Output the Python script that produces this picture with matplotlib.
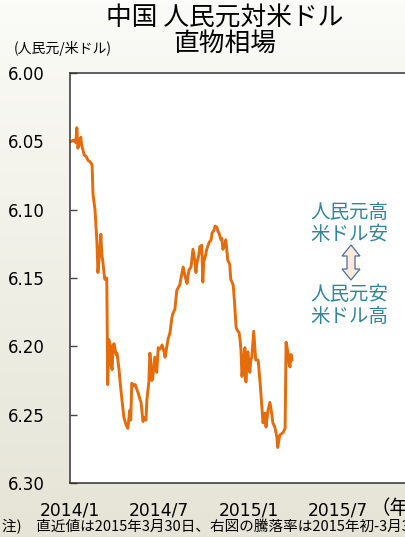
import numpy as np
import pandas as pd
import matplotlib
matplotlib.use("Agg")
import matplotlib.pyplot as plt
from matplotlib.patches import Polygon

plt.rcParams['font.family'] = ['Noto Sans CJK JP', 'DejaVu Sans']

# Days since 2014-01-01 and CNY per USD spot rate
days = [2, 8, 12, 14, 16, 18, 22, 24, 29, 33, 37, 41, 45, 47, 51, 55, 57, 61, 63, 65,
        67, 71, 75, 77, 79, 82, 84, 86, 88, 90, 94, 96, 100, 102, 106, 110, 114, 118, 122, 124,
        126, 131, 133, 139, 143, 145, 149, 153, 155, 157, 161, 163, 165, 167, 169, 173, 177, 180, 184, 188,
        192, 194, 198, 200, 204, 208, 210, 214, 216, 218, 224, 226, 231, 235, 239, 241, 243, 247, 251, 255,
        257, 259, 263, 265, 269, 271, 273, 277, 279, 284, 288, 290, 294, 296, 300, 302, 304, 308, 310, 312,
        316, 318, 322, 326, 328, 333, 335, 339, 341, 345, 347, 349, 351, 355, 357, 359, 361, 363, 367, 369,
        371, 373, 375, 379, 384, 388, 392, 394, 398, 400, 404, 408, 412, 414, 418, 422, 424, 428, 435, 439,
        441, 443, 445, 447, 449, 451, 453]
rate = [6.050, 6.049, 6.051, 6.040, 6.055, 6.053, 6.047, 6.053, 6.060, 6.061, 6.064, 6.065, 6.067, 6.089, 6.100, 6.124, 6.146, 6.129, 6.118, 6.133,
        6.138, 6.151, 6.150, 6.228, 6.195, 6.199, 6.214, 6.217, 6.199, 6.198, 6.206, 6.205, 6.217, 6.225, 6.239, 6.252, 6.257, 6.260, 6.247, 6.254,
        6.227, 6.229, 6.228, 6.234, 6.239, 6.241, 6.255, 6.252, 6.254, 6.239, 6.226, 6.205, 6.212, 6.225, 6.223, 6.208, 6.219, 6.201, 6.202, 6.199,
        6.204, 6.208, 6.199, 6.195, 6.190, 6.179, 6.176, 6.173, 6.166, 6.159, 6.155, 6.151, 6.142, 6.149, 6.154, 6.148, 6.144, 6.142, 6.129, 6.138,
        6.146, 6.139, 6.133, 6.127, 6.126, 6.153, 6.138, 6.133, 6.129, 6.124, 6.122, 6.117, 6.115, 6.112, 6.113, 6.116, 6.117, 6.122, 6.121, 6.129,
        6.126, 6.122, 6.137, 6.140, 6.151, 6.155, 6.164, 6.186, 6.188, 6.190, 6.195, 6.203, 6.222, 6.206, 6.201, 6.226, 6.210, 6.204, 6.219, 6.210,
        6.208, 6.199, 6.189, 6.210, 6.210, 6.227, 6.247, 6.256, 6.249, 6.259, 6.247, 6.241, 6.250, 6.256, 6.259, 6.266, 6.274, 6.265, 6.263, 6.260,
        6.197, 6.201, 6.205, 6.213, 6.215, 6.206, 6.210]

yticks = [6.00, 6.05, 6.10, 6.15, 6.20, 6.25, 6.30]
xtick_dates = ['2014-01-01', '2014-07-01', '2015-01-01', '2015-07-01']
xtick_labels = ['2014/1', '2014/7', '2015/1', '2015/7']

dates = pd.Timestamp('2014-01-01') + pd.to_timedelta(days, unit='D')

W, H = 406, 537
fig = plt.figure(figsize=(W / 100, H / 100), dpi=100)

# background gradient
bg = fig.add_axes([0, 0, 1, 1], zorder=-10)
grad = np.linspace(0, 1, 256).reshape(-1, 1)
top_c = np.array([0.985, 0.985, 0.970])
bot_c = np.array([0.898, 0.894, 0.840])
img = top_c[None, None, :] * (1 - grad[:, :, None]) + bot_c[None, None, :] * grad[:, :, None]
bg.imshow(img, aspect='auto', extent=[0, 1, 0, 1])
bg.set_axis_off()

left_px, right_px, top_px, bot_px = 70, 418, 73, 483
ax = fig.add_axes([left_px / W, 1 - bot_px / H, (right_px - left_px) / W, (bot_px - top_px) / H])
ax.set_facecolor('white')
ax.plot(dates, rate, color='#E46C0A', lw=2.1, solid_joinstyle='round')

x0 = pd.Timestamp('2014-01-01')
ax.set_xlim(x0, x0 + pd.Timedelta(days=(right_px - left_px) / 0.49))
ax.set_ylim(6.30, 6.00)
ax.set_yticks(yticks)
ax.set_yticklabels([f'{v:.2f}' for v in yticks], fontsize=12, family='DejaVu Sans')
ax.set_xticks(pd.to_datetime(xtick_dates))
ax.set_xticklabels(xtick_labels, fontsize=12.3, family='DejaVu Sans')
ax.tick_params(axis='y', direction='in', length=5, width=1, pad=18, color='#444444')
ax.tick_params(axis='x', length=0, pad=13)
for s in ax.spines.values():
    s.set_color('#333333')
    s.set_linewidth(1.1)

def fx(px):
    return px / W

def fy(py):
    return 1 - py / H

fig.text(fx(371), fy(509), '（年）', fontsize=14, ha='left', va='center')

fig.text(fx(225), fy(19), '中国 人民元対米ドル', fontsize=18.5, ha='center', va='center')
fig.text(fx(225), fy(44), '直物相場', fontsize=18.5, ha='center', va='center')
fig.text(fx(14), fy(48), '(人民元/米ドル)', fontsize=10, ha='left', va='center')

tc = '#31859C'
fig.text(fx(349), fy(212), '人民元高', fontsize=14, color=tc, ha='center', va='center')
fig.text(fx(349), fy(235), '米ドル安', fontsize=14, color=tc, ha='center', va='center')
fig.text(fx(349), fy(295), '人民元安', fontsize=14, color=tc, ha='center', va='center')
fig.text(fx(349), fy(317), '米ドル高', fontsize=14, color=tc, ha='center', va='center')

cx = 351
pts = [(cx, 245), (cx + 9, 256), (cx + 4, 256), (cx + 4, 269), (cx + 9, 269), (cx, 280),
       (cx - 9, 269), (cx - 4, 269), (cx - 4, 256), (cx - 9, 256)]
arrow = Polygon([(fx(x), fy(y)) for x, y in pts], closed=True, transform=fig.transFigure,
                facecolor='#FDE9D9', edgecolor='#4A6FA0', lw=0.9)
fig.patches.append(arrow)

fig.text(fx(2), fy(527), '注)　直近値は2015年3月30日、右図の騰落率は2015年初-3月30日。', fontsize=10.5,
         ha='left', va='center')

fig.savefig('out.png', dpi=100)
